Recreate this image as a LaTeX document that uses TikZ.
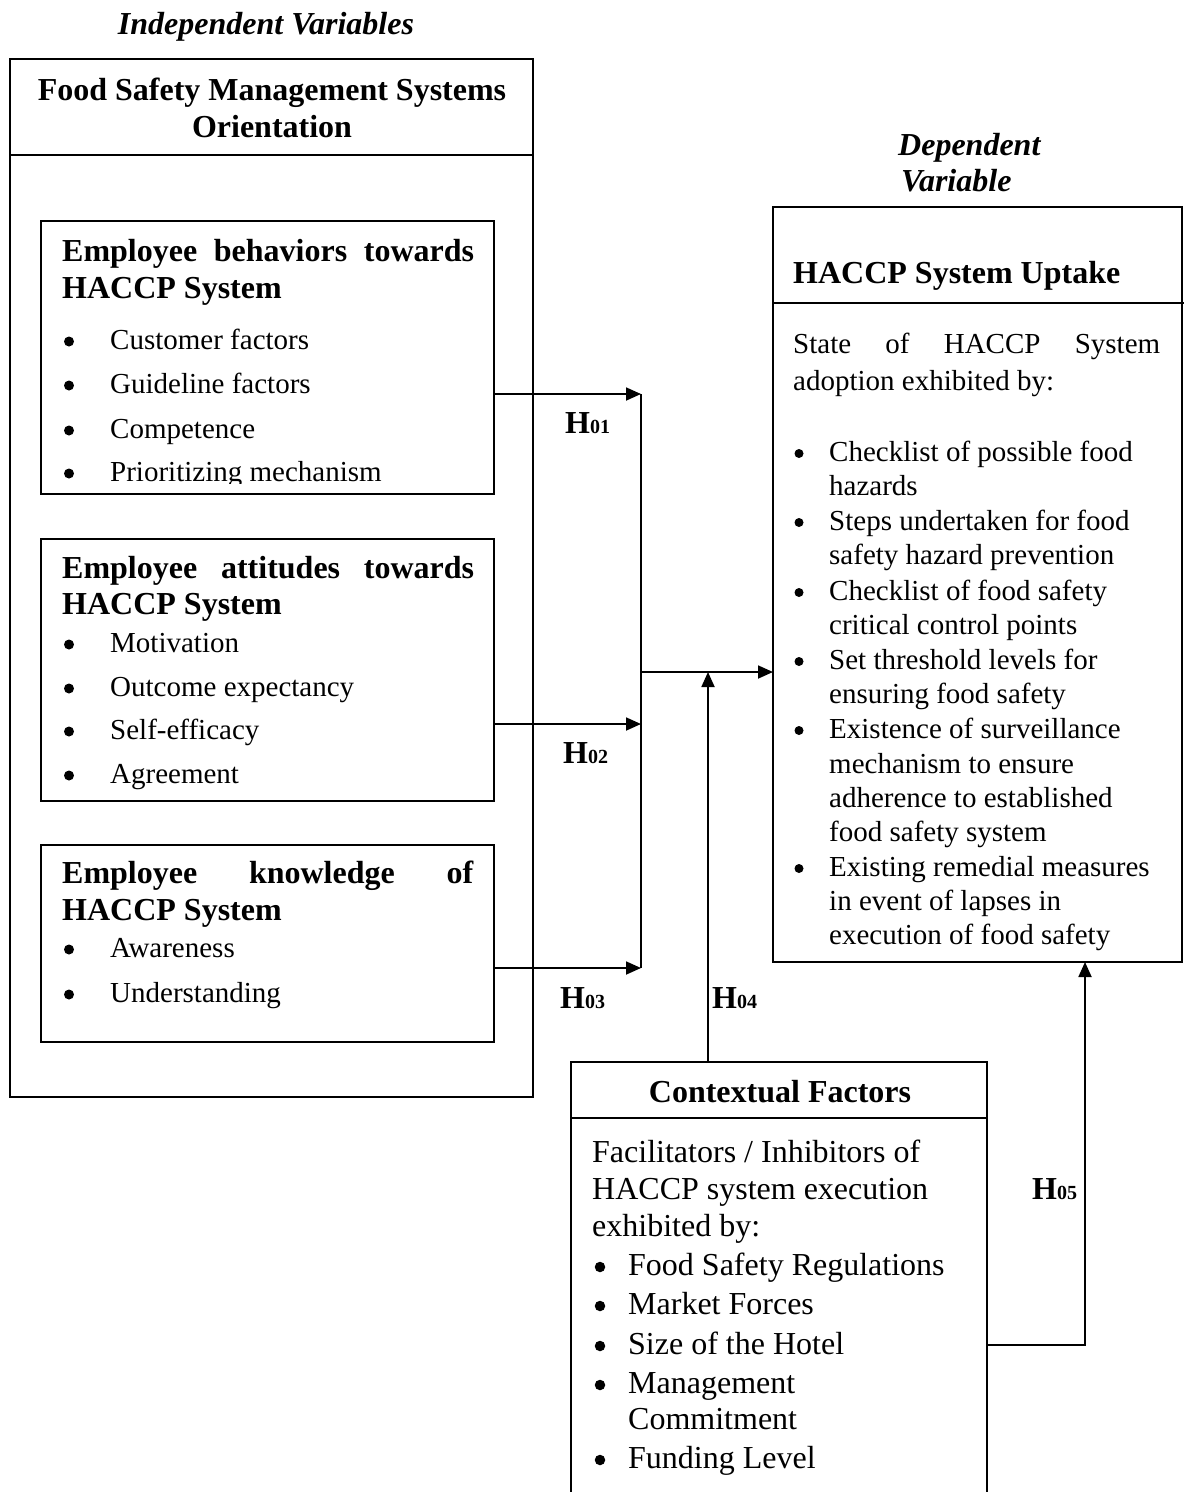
\documentclass[tikz,border=0pt]{standalone}
\usepackage{fontspec}
\setmainfont{Liberation Serif}
\usetikzlibrary{arrows.meta}
\newcommand\hlab[1]{{\fontsize{32}{32}\selectfont\bfseries H}{\fontsize{20}{20}\selectfont\bfseries #1}}
\begin{document}
\begin{tikzpicture}[x=1pt,y=-1pt,
  box/.style={draw, line width=1.4pt, anchor=north west, inner sep=0pt, outer sep=0pt},
  divl/.style={line width=1.4pt},
  tx/.style={anchor=base west, inner sep=0pt, font=\fontsize{29}{29}\selectfont},
  tc/.style={anchor=base west, inner sep=0pt, font=\fontsize{32}{32}\selectfont},
  bul/.style={circle, fill, draw=none, inner sep=0pt, minimum size=10pt, yshift=7.5pt},
  bulr/.style={circle, fill, draw=none, inner sep=0pt, minimum size=9pt, yshift=7.5pt},
  bulc/.style={circle, fill, draw=none, inner sep=0pt, minimum size=10.5pt, yshift=8pt},
  hd/.style={anchor=base west, inner sep=0pt, font=\fontsize{32}{32}\selectfont\bfseries},
  hdc/.style={anchor=base, inner sep=0pt, font=\fontsize{32}{32}\selectfont\bfseries},
  ttl/.style={anchor=base, inner sep=0pt, font=\fontsize{32}{32}\selectfont\bfseries\itshape},
  ttlw/.style={anchor=base west, inner sep=0pt, font=\fontsize{32}{32}\selectfont\bfseries\itshape},
  hyp/.style={anchor=base west, inner sep=0pt},
  conn/.style={line width=1.8pt},
  arr/.style={conn, -{Triangle[length=15pt,width=13pt]}},
]
\useasboundingbox (0,0) rectangle (1184,1492);
\clip (0,0) rectangle (1184,1492);

% ---------- Independent variables ----------
\node[ttl] (tiv) at (266,34) {Independent Variables};
\node[box, minimum width=523pt, minimum height=1038pt] (iv) at (10,59) {};
\draw[divl] (iv.west |- 0,155) -- (iv.east |- 0,155);
\node[hdc] (ivt1) at (272,100) {Food Safety Management Systems};
\node[hdc] (ivt2) at (272,137) {Orientation};

% box 1
\node[box, minimum width=453pt, minimum height=273pt] (b1) at (41,221) {};
\node[hd] (b1h1) at (62,261) {\hbox to 412pt{Employee\hfill behaviors\hfill towards}};
\node[hd] (b1h2) at (62,298) {HACCP System};
\node[bul] (b1d1) at (69,349) {}; \node[tx] (b1t1) at (110,349) {Customer factors};
\node[bul] (b1d2) at (69,393) {}; \node[tx] (b1t2) at (110,393) {Guideline factors};
\node[bul] (b1d3) at (69,438) {}; \node[tx] (b1t3) at (110,438) {Competence};
\begin{scope}
  \clip (42,222) rectangle (493,483);
  \node[bul] (b1d4) at (69,481) {}; \node[tx] (b1t4) at (110,481) {Prioritizing mechanism};
\end{scope}

% box 2
\node[box, minimum width=453pt, minimum height=262pt] (b2) at (41,539) {};
\node[hd] (b2h1) at (62,578) {\hbox to 412pt{Employee\hfill attitudes\hfill towards}};
\node[hd] (b2h2) at (62,614) {HACCP System};
\node[bul] (b2d1) at (69,652) {}; \node[tx] (b2t1) at (110,652) {Motivation};
\node[bul] (b2d2) at (69,696) {}; \node[tx] (b2t2) at (110,696) {Outcome expectancy};
\node[bul] (b2d3) at (69,739) {}; \node[tx] (b2t3) at (110,739) {Self-efficacy};
\node[bul] (b2d4) at (69,783) {}; \node[tx] (b2t4) at (110,783) {Agreement};

% box 3
\node[box, minimum width=453pt, minimum height=197pt] (b3) at (41,845) {};
\node[hd] (b3h1) at (62,883) {\hbox to 411pt{Employee\hfill knowledge\hfill of}};
\node[hd] (b3h2) at (62,920) {HACCP System};
\node[bul] (b3d1) at (69,957) {}; \node[tx] (b3t1) at (110,957) {Awareness};
\node[bul] (b3d2) at (69,1002) {}; \node[tx] (b3t2) at (110,1002) {Understanding};

% ---------- Dependent variable ----------
\node[ttlw] (tdv1) at (898,155) {Dependent};
\node[ttlw] (tdv2) at (901,191) {Variable};
\node[box, minimum width=409pt, minimum height=755pt] (dv) at (773,207) {};
\draw[divl] (dv.west |- 0,303) -- (1184,303);
\node[hd] (dvh) at (793,283) {HACCP System Uptake};
\node[tx] (dvs1) at (793,353) {\hbox to 367pt{State\hfill of\hfill HACCP\hfill System}};
\node[tx] (dvs2) at (793,390) {adoption exhibited by:};
\node[bulr] (dvd1) at (799,461) {};
\node[tx] (dvl1) at (829,461) {Checklist of possible food};
\node[tx] (dvl2) at (829,495) {hazards};
\node[bulr] (dvd2) at (799,530) {};
\node[tx] (dvl3) at (829,530) {Steps undertaken for food};
\node[tx] (dvl4) at (829,564) {safety hazard prevention};
\node[bulr] (dvd3) at (799,600) {};
\node[tx] (dvl5) at (829,600) {Checklist of food safety};
\node[tx] (dvl6) at (829,634) {critical control points};
\node[bulr] (dvd4) at (799,669) {};
\node[tx] (dvl7) at (829,669) {Set threshold levels for};
\node[tx] (dvl8) at (829,703) {ensuring food safety};
\node[bulr] (dvd5) at (799,738) {};
\node[tx] (dvl9) at (829,738) {Existence of surveillance};
\node[tx] (dvl10) at (829,773) {mechanism to ensure};
\node[tx] (dvl11) at (829,807) {adherence to established};
\node[tx] (dvl12) at (829,841) {food safety system};
\node[bulr] (dvd6) at (799,876) {};
\node[tx] (dvl13) at (829,876) {Existing remedial measures};
\node[tx] (dvl14) at (829,910) {in event of lapses in};
\node[tx] (dvl15) at (829,944) {execution of food safety};

% ---------- Contextual factors ----------
\node[box, minimum width=416pt, minimum height=460pt] (cf) at (571,1062) {};
\draw[divl] (cf.west |- 0,1118) -- (cf.east |- 0,1118);
\node[hdc] (cfh) at (780,1102) {Contextual Factors};
\node[tc] (cfs1) at (592,1162) {Facilitators / Inhibitors of};
\node[tc] (cfs2) at (592,1199) {HACCP system execution};
\node[tc] (cfs3) at (592,1236) {exhibited by:};
\node[bulc] (cfd1) at (600,1275) {}; \node[tc] (cfl1) at (628,1275) {Food Safety Regulations};
\node[bulc] (cfd2) at (600,1314) {}; \node[tc] (cfl2) at (628,1314) {Market Forces};
\node[bulc] (cfd3) at (600,1354) {}; \node[tc] (cfl3) at (628,1354) {Size of the Hotel};
\node[bulc] (cfd4) at (600,1393) {}; \node[tc] (cfl4) at (628,1393) {Management};
\node[tc] (cfl5) at (628,1429) {Commitment};
\node[bulc] (cfd5) at (600,1468) {}; \node[tc] (cfl6) at (628,1468) {Funding Level};

% ---------- Connectors ----------
\coordinate (j1) at (641,394);
\coordinate (j2) at (641,724);
\coordinate (j3) at (641,968);
\coordinate (jm) at (641,672);
\coordinate (j4) at (708,672);
\coordinate (h5) at (1085,1345);

\draw[conn] (j1) -- (j3);
\draw[arr] (b1.east |- j1) -- (j1);
\draw[arr] (b2.east |- j2) -- (j2);
\draw[arr] (b3.east |- j3) -- (j3);
\draw[arr] (jm) -- (dv.west |- jm);
\draw[arr] (cf.north -| j4) -- (j4);
\draw[arr] (cf.east |- h5) -- (h5) -- (dv.south -| h5);

% hypothesis labels
\node[hyp] (H1) at (565,433) {\hlab{01}};
\node[hyp] (H2) at (563,763) {\hlab{02}};
\node[hyp] (H3) at (560,1008) {\hlab{03}};
\node[hyp] (H4) at (712,1008) {\hlab{04}};
\node[hyp] (H5) at (1032,1199) {\hlab{05}};
\end{tikzpicture}
\end{document}
